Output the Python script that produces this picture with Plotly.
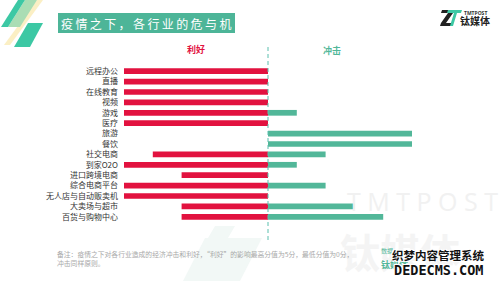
import plotly.graph_objects as go

categories = ["远程办公", "直播", "在线教育", "视频", "游戏", "医疗", "旅游", "餐饮",
              "社交电商", "到家O2O", "进口跨境电商", "综合电商平台", "无人店与自动贩卖机",
              "大卖场与超市", "百货与购物中心"]
benefit = [5, 5, 5, 5, 5, 5, 0, 0, 4, 5, 3, 5, 5, 3, 3]   # 利好
impact = [0, 0, 0, 0, 1, 0, 5, 5, 2, 1, 0, 2, 0, 3, 4]    # 冲击

RED = "#E2123F"
TEAL = "#52B799"
CJK = "Noto Sans CJK SC"

# plot-area pixel box (for placing decorations in paper coords)
L, R, T, B = 124, 412, 66, 222
W, H = R - L, B - T
def px(x):
    return (x - L) / W
def py(y):
    return (B - y) / H

fig = go.Figure()
fig.add_trace(go.Bar(y=categories, x=[-v for v in benefit], orientation="h",
                     marker=dict(color=RED, line=dict(width=0)), name="利好"))
fig.add_trace(go.Bar(y=categories, x=impact, orientation="h",
                     marker=dict(color=TEAL, line=dict(width=0)), name="冲击"))

shapes = []
def poly(pts, color, opacity=1.0):
    path = "M " + " L ".join(f"{px(a):.4f},{py(b):.4f}" for a, b in pts) + " Z"
    shapes.append(dict(type="path", path=path, xref="paper", yref="paper",
                       fillcolor=color, line=dict(width=0), opacity=opacity, layer="below"))

# background watermark "Z"-like shapes
poly([(205, 238), (262, 238), (240, 281), (183, 281)], "#F2F8F6")
poly([(215, 226), (235, 226), (228, 238), (208, 238)], "#F2F8F6")

# top-left decoration stripes
poly([(37, 0), (43, 0), (10, 45), (4, 45)], "#FBEFC4")
poly([(25, 0), (37, 0), (20, 27), (8, 27)], "#A9DDB4")
poly([(18, 0), (25, 0), (8, 27), (1, 27)], "#3CC8A4")
poly([(28, 23), (43, 23), (30, 47), (14, 47)], "#3CC8A4")

# title box
shapes.append(dict(type="rect", xref="paper", yref="paper", x0=px(58), x1=px(235),
                   y0=py(33), y1=py(13), fillcolor="#4DB598", line=dict(width=0)))

# logo icon
poly([(442, 10), (454, 10), (453, 13), (446, 23), (453, 23), (452, 26), (440, 26), (441, 23), (448, 13), (441, 13)], "#222222")
poly([(448, 10), (462, 10), (461, 13), (457, 13), (453, 26), (450, 26), (454, 13), (447, 13)], "#3CC8A4")

# center dashed line
shapes.append(dict(type="line", xref="x", yref="paper", x0=0, x1=0,
                   y0=py(240), y1=py(45), line=dict(color="#5BBFAE", width=1, dash="4px,3px")))

ann = []
def text(x, y, s, size, color, bold=False, anchor="left", family=CJK, shadow=None):
    f = dict(size=size, color=color, family=family)
    if bold:
        f["weight"] = "bold"
    if shadow:
        f["shadow"] = shadow
    ann.append(dict(x=px(x), y=py(y), xref="paper", yref="paper", text=s, showarrow=False,
                    xanchor=anchor, yanchor="middle", font=f))

# background watermark texts
text(422, 201, "T M T P O S T", 25, "#F1F1F1", anchor="center", family="Open Sans")
text(400, 251, "钛媒体", 40, "#F4F4F4", bold=True, anchor="center")

title = "\u2009".join("疫情之下，各行业的危与机")
text(146, 23, title, 12, "white", anchor="center")
text(196, 50, "利好", 9, RED, bold=True, anchor="center")
text(332, 51, "冲击", 9, TEAL, bold=True, anchor="center")

text(475, 13, "TMTPOST", 5, "#333333", bold=True, anchor="center", family="Open Sans")
text(475, 21, "钛媒体", 10, "#222222", bold=True, anchor="center")

text(55, 254, "备注：疫情之下对各行业造成的经济冲击和利好，“利好”的影响最高分值为5分，最低分值为0分，", 6.8, "#A8A8A8")
text(55, 263, "冲击同样原则。", 6.8, "#A8A8A8")

text(379, 250, "数据", 6, TEAL)
text(379, 264, "钛媒体", 9, TEAL, bold=True)
wm_shadow = "1px 1px 0 #fff, -1px -1px 0 #fff, 1px -1px 0 #fff, -1px 1px 0 #fff"
text(438, 255, "织梦内容管理系统", 11.5, "#111111", bold=True, anchor="center", shadow=wm_shadow)
text(438, 270, "DEDECMS.COM", 13.5, "#111111", bold=True, anchor="center",
     family="DejaVu Sans Mono", shadow=wm_shadow)

fig.update_layout(
    width=500, height=281,
    margin=dict(l=L, r=500 - R, t=T, b=281 - B),
    paper_bgcolor="white", plot_bgcolor="rgba(0,0,0,0)",
    barmode="relative", bargap=0.45, showlegend=False,
    shapes=shapes, annotations=ann,
    xaxis=dict(range=[-5, 5], visible=False, fixedrange=True),
    yaxis=dict(categoryorder="array", categoryarray=categories, autorange="reversed",
               showgrid=False, zeroline=False, showline=False, ticks="",
               ticklabelstandoff=5,
               tickfont=dict(size=8, color="#333333", family=CJK)),
)

fig.write_html("out.html")
